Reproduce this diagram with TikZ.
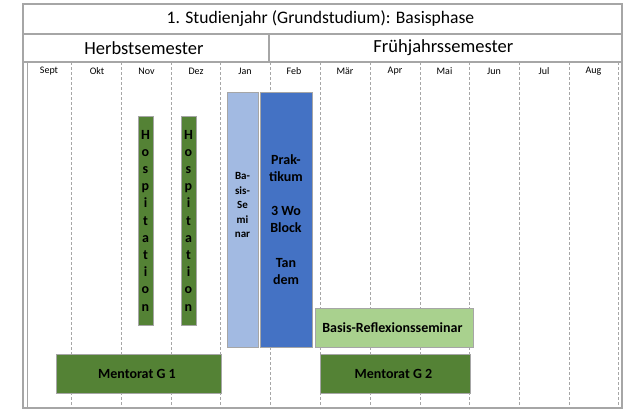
\documentclass[tikz,border=0pt]{standalone}
\usepackage{fontspec}
\setmainfont{Carlito}
\definecolor{framegray}{HTML}{A6A6A6}
\definecolor{hospgreen}{HTML}{548235}
\definecolor{reflgreen}{HTML}{A9D18E}
\definecolor{semblue}{HTML}{A2BAE2}
\definecolor{praxblue}{HTML}{4472C4}

\begin{document}
\begin{tikzpicture}[%
    x=1pt, y=-1pt,              % work in pixels of the sheet
    ]

\tikzset{
  base/.style={draw=framegray, line width=0.9pt, inner sep=0pt, align=center},
  head/.style={base, line width=1.2pt, font=\fontsize{18.5}{20}\selectfont},
  month/.style={font=\fontsize{10}{12}\selectfont},
  block/.style={base, font=\bfseries\fontsize{14}{17.2}\selectfont}
  };

\useasboundingbox (0,0) rectangle (629,410);

% HEADER
\node[head, minimum width=599pt, minimum height=30pt, font=\fontsize{17.6}{20}\selectfont] (title) at (322.5,19) { 1. Studienjahr (Grundstudium): Basisphase };

\node[head, minimum width=246pt, minimum height=28pt] (herbst) at (146,48) { Herbstsemester };

\node[head, minimum width=353pt, minimum height=28pt] (fruehjahr) at (445.5,48) { Frühjahrssemester };

% MONTH grid
\draw[framegray, line width=1.2pt] (23,62) rectangle (622,408);
\draw[framegray, line width=0.6pt] (27,62) -- (27,408);
\draw[framegray, dashed, dash pattern=on 3pt off 2pt, line width=0.6pt]
  (71,62) -- (71,408)   (121,62) -- (121,408) (171,62) -- (171,408)
  (220,62) -- (220,408) (270,62) -- (270,408) (320,62) -- (320,408)
  (370,62) -- (370,408) (420,62) -- (420,408) (469,62) -- (469,408)
  (519,62) -- (519,408) (569,62) -- (569,408) (618,62) -- (618,408);

\node[month] (sept) at (49,71) { Sept };
\node[month] (okt) at (97,71) { Okt };
\node[month] (nov) at (146.5,71) { Nov };
\node[month] (dez) at (196,71) { Dez };
\node[month] (jan) at (245,71) { Jan };
\node[month] (feb) at (294,71) { Feb };
\node[month] (maer) at (345,71) { Mär };
\node[month] (apr) at (395,71) { Apr };
\node[month] (mai) at (444.5,71) { Mai };
\node[month] (jun) at (494,71) { Jun };
\node[month] (jul) at (544,71) { Jul };
\node[month] (aug) at (593.5,71) { Aug };

% HERBST blocks
\node[block, fill=hospgreen, minimum width=15pt, minimum height=209pt] (hosp1) at (145.5,220.5) { H\\o\\s\\p\\i\\t\\a\\t\\i\\o\\n };

\node[block, fill=hospgreen, minimum width=15pt, minimum height=209pt] (hosp2) at (188.5,220.5) { H\\o\\s\\p\\i\\t\\a\\t\\i\\o\\n };

\node[block, fill=hospgreen, minimum width=165pt, minimum height=39pt] (mentorat1) at (138.5,373.5) { Mentorat G 1 };

% JAN / FEB blocks
\node[block, fill=semblue, minimum width=31pt, minimum height=255pt,
      font=\bfseries\fontsize{11}{14.5}\selectfont] (seminar) at (242.5,219.5) { Ba-\\sis-\\Se\\mi\\nar\\\mbox{}\\\mbox{} };

\node[block, fill=praxblue, minimum width=52pt, minimum height=255pt] (praktikum) at (286,219.5) { Prak-\\tikum\\[17pt]3 Wo\\Block\\[17pt]Tan\\dem };

% FRUEHJAHR blocks
\node[block, fill=reflgreen, minimum width=158pt, minimum height=39pt] (reflexion) at (394,327.5) { Basis-Reflexionsseminar };

\node[block, fill=hospgreen, minimum width=150pt, minimum height=39pt] (mentorat2) at (395,373.5) { Mentorat G 2 };

\end{tikzpicture}
\end{document}
